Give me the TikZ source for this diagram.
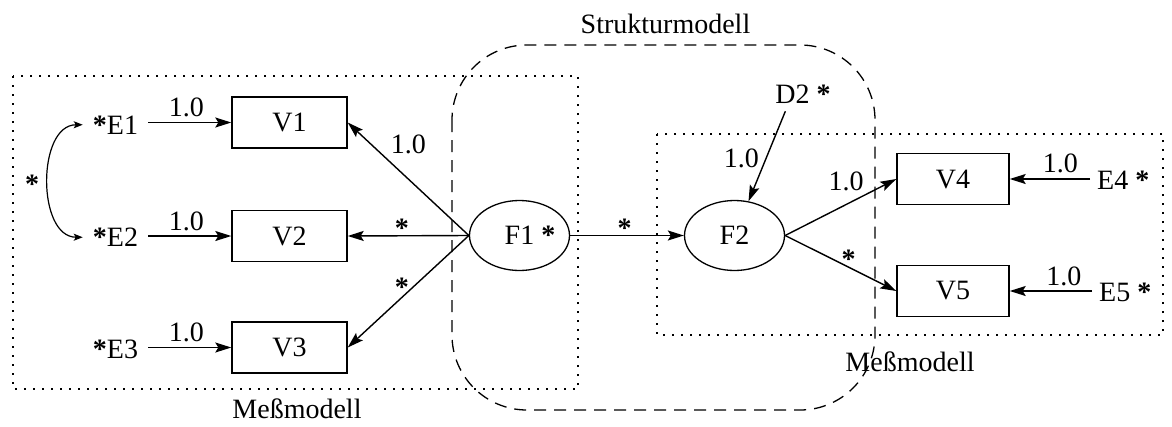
\documentclass[tikz,border=0pt]{standalone}
\usepackage{fontspec}
\setmainfont{Liberation Serif}
\usetikzlibrary{arrows.meta,shapes.geometric}

\tikzset{
  every node/.style={font=\fontsize{28}{32}\selectfont},
  varbox/.style={draw, line width=1.4pt, minimum width=115pt, minimum height=51pt, inner sep=0pt},
  factor/.style={draw, ellipse, line width=1.3pt, minimum width=100pt, minimum height=70pt, inner sep=0pt},
  errlbl/.style={inner xsep=9pt, inner ysep=0pt, anchor=base},
  coef/.style={inner sep=0pt, anchor=base},
  path/.style={line width=1.4pt, -{Stealth[length=16pt,width=10pt,inset=3pt]}},
  region/.style={line width=1.6pt, dash pattern=on 1.6pt off 7.4pt},
  struct/.style={line width=1.3pt, dash pattern=on 12pt off 8pt, rounded corners=75pt},
}
\newcommand{\stm}{\textbf{*}}

\begin{document}
\begin{tikzpicture}[x=1pt, y=-1pt]
  \useasboundingbox (0,0) rectangle (1172,426);

  % model regions
  \draw[region] (13,76) rectangle (578,389);
  \draw[region] (657,134) rectangle (1163,335);
  \draw[struct] (452,45) rectangle (875,410);

  \node[coef] (struk) at (665.5,33) {Strukturmodell};
  \node[coef] (messL) at (297,418) {Meßmodell};
  \node[coef] (messR) at (910,371) {Meßmodell};

  % observed variables
  \node[varbox] (V1) at (289.5,122.5) {V1};
  \node[varbox] (V2) at (289.5,236) {V2};
  \node[varbox] (V3) at (289.5,347.5) {V3};
  \node[varbox, minimum width=112pt] (V4) at (953,179) {V4};
  \node[varbox, minimum width=112pt] (V5) at (953,291) {V5};

  % latent factors
  \node[factor] (F1) at (519.5,235.5) {F1\rlap{ \stm}};
  \node[factor] (F2) at (734.5,235.5) {F2};

  % error and disturbance terms
  \node[errlbl, inner xsep=10pt] (E1) at (115.5,134) {\stm E1};
  \node[errlbl, inner xsep=10pt] (E2) at (115.5,246.5) {\stm E2};
  \node[errlbl, inner xsep=10pt] (E3) at (115.5,358) {\stm E3};
  \node[errlbl, inner xsep=7pt, anchor=base west] (E4) at (1090,189) {E4 \stm};
  \node[errlbl, inner xsep=7pt, anchor=base west] (E5) at (1092,301) {E5 \stm};
  \node[inner sep=8pt, anchor=base] (D2) at (792.5,103) {D2\rlap{ \stm}};

  % error paths
  \draw[path] (E1.east |- V1.west) -- (V1.west)
    node[coef, midway, xshift=-3.5pt, yshift=6pt] {1.0};
  \draw[path] (E2.east |- V2.west) -- (V2.west)
    node[coef, midway, xshift=-3.5pt, yshift=6pt] {1.0};
  \draw[path] (E3.east |- V3.west) -- (V3.west)
    node[coef, midway, xshift=-3.5pt, yshift=6pt] {1.0};
  \draw[path] (E4.west |- V4.east) -- (V4.east)
    node[coef, midway, xshift=10.5pt, yshift=7pt] {1.0};
  \draw[path] (E5.west |- V5.east) -- (V5.east)
    node[coef, midway, xshift=13pt, yshift=6pt] {1.0};

  % error covariance
  \draw[line width=1.2pt, {Stealth[length=9pt,width=7pt,inset=2pt]}-{Stealth[length=9pt,width=7pt,inset=2pt]}]
    (E1.west) .. controls +(-46,0) and +(-46,0) .. (E2.west)
    node[coef, pos=0.5, xshift=-16pt, yshift=-13pt] {\stm};

  % loadings of F1
  \draw[path] (F1.west) -- (V1.east)
    node[coef, midway, yshift=25.5pt] {1.0};
  \draw[path] (F1.west) -- (V2.east)
    node[coef, midway, xshift=-6.5pt, yshift=-1.7pt] {\stm};
  \draw[path] (F1.west) -- (V3.east)
    node[coef, midway, xshift=-6.3pt, yshift=-5pt] {\stm};

  % structural path and disturbance
  \draw[path] (F1.east) -- (F2.west)
    node[coef, midway, xshift=-2.5pt, yshift=-1.5pt] {\stm};
  \draw[path] (D2) -- (F2)
    node[coef, midway, xshift=-25.5pt, yshift=-11.5pt] {1.0};

  % loadings of F2
  \draw[path] (F2.east) -- (V4.west)
    node[coef, midway, xshift=5.5pt, yshift=17pt] {1.0};
  \draw[path] (F2.east) -- (V5.west)
    node[coef, midway, xshift=7.8pt, yshift=-5.2pt] {\stm};
\end{tikzpicture}
\end{document}
